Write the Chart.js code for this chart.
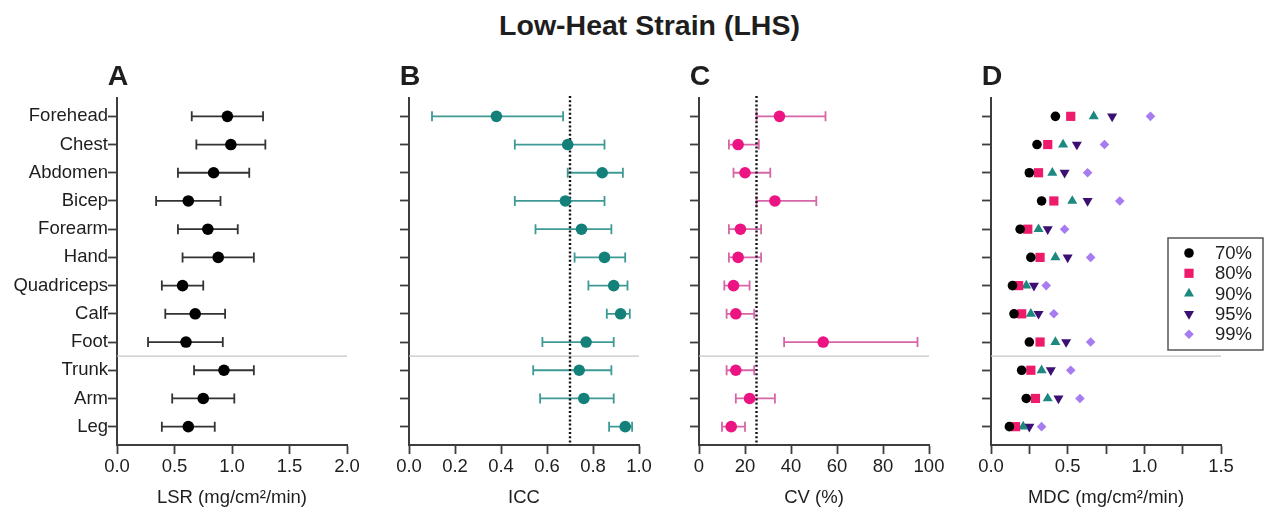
<!DOCTYPE html>
<html>
<head>
<meta charset="utf-8">
<script src="https://cdn.jsdelivr.net/npm/chart.js@4.4.1/dist/chart.umd.min.js"></script>
<style>
  body { margin: 0; background: #fff; width: 1271px; height: 515px; overflow: hidden; position: relative;
         font-family: "Liberation Sans", Arial, sans-serif; }
  #title { position: absolute; top: 11px; left: 649.5px; transform: translateX(-50%);
           font-weight: bold; font-size: 28.5px; line-height: 28.5px; white-space: nowrap; color: #1e1e1e; }
  canvas { position: absolute; top: 50px; }
</style>
</head>
<body>
<div id="title">Low-Heat Strain (LHS)</div>
<canvas id="chartA" width="362" height="465" style="left:0px"></canvas>
<canvas id="chartB" width="300" height="465" style="left:362px"></canvas>
<canvas id="chartC" width="290" height="465" style="left:662px"></canvas>
<canvas id="chartD" width="319" height="465" style="left:952px"></canvas>
<script>
// sites, top to bottom (last three are regional groups)
const sites = ["Forehead", "Chest", "Abdomen", "Bicep", "Forearm", "Hand", "Quadriceps", "Calf", "Foot", "Trunk", "Arm", "Leg"];

// A - local sweat rate
const lsrMean = [0.96, 0.99, 0.84, 0.62, 0.79, 0.88, 0.57, 0.68, 0.60, 0.93, 0.75, 0.62];
const lsrLow  = [0.65, 0.69, 0.53, 0.34, 0.53, 0.57, 0.39, 0.42, 0.27, 0.67, 0.48, 0.39];
const lsrHigh = [1.27, 1.29, 1.15, 0.90, 1.05, 1.19, 0.75, 0.94, 0.92, 1.19, 1.02, 0.85];

// B - ICC
const iccMean = [0.38, 0.69, 0.84, 0.68, 0.75, 0.85, 0.89, 0.92, 0.77, 0.74, 0.76, 0.94];
const iccLow  = [0.10, 0.46, 0.69, 0.46, 0.55, 0.72, 0.78, 0.86, 0.58, 0.54, 0.57, 0.87];
const iccHigh = [0.67, 0.85, 0.93, 0.85, 0.88, 0.94, 0.95, 0.96, 0.89, 0.88, 0.89, 0.97];
const iccRef = 0.7;

// C - CV (%)
const cvMean = [35, 17, 20, 33, 18, 17, 15, 16, 54, 16, 22, 14];
const cvLow  = [25, 13, 15, 25, 13, 13, 11, 12, 37, 12, 16, 10];
const cvHigh = [55, 26, 31, 51, 27, 27, 22, 24, 95, 24, 33, 20];
const cvRef = 25;

// D - MDC at each confidence level
const mdcLevels = ["70%", "80%", "90%", "95%", "99%"];
const mdc70 = [0.42, 0.30, 0.25, 0.33, 0.19, 0.26, 0.14, 0.15, 0.25, 0.20, 0.23, 0.12];
const mdc80 = [0.52, 0.37, 0.31, 0.41, 0.24, 0.32, 0.18, 0.20, 0.32, 0.26, 0.29, 0.16];
const mdc90 = [0.67, 0.47, 0.40, 0.53, 0.31, 0.42, 0.23, 0.26, 0.42, 0.33, 0.37, 0.21];
const mdc95 = [0.79, 0.56, 0.48, 0.63, 0.37, 0.50, 0.28, 0.31, 0.49, 0.39, 0.44, 0.25];
const mdc99 = [1.04, 0.74, 0.63, 0.84, 0.48, 0.65, 0.36, 0.41, 0.65, 0.52, 0.58, 0.33];

// x tick positions and labels
const lsrTicks = [0, 0.5, 1, 1.5, 2];
const lsrTickLabels = ["0.0", "0.5", "1.0", "1.5", "2.0"];
const iccTicks = [0, 0.2, 0.4, 0.6, 0.8, 1];
const iccTickLabels = ["0.0", "0.2", "0.4", "0.6", "0.8", "1.0"];
const cvTicks = [0, 20, 40, 60, 80, 100];
const cvTickLabels = ["0", "20", "40", "60", "80", "100"];
const mdcTicks = [0, 0.25, 0.5, 0.75, 1, 1.25, 1.5];
const mdcTickLabels = ["0.0", "", "0.5", "", "1.0", "", "1.5"];

const FONT = "'Liberation Sans', Arial, sans-serif";
const TEXT = "#1e1e1e";
const AXIS = "#3d3d3d";
Chart.defaults.font.family = FONT;
Chart.defaults.color = TEXT;

// draws separator, error bars, reference line, panel letter and (for D) the legend box
function decor(cfg) {
    return {
        id: "decor",
        beforeDatasetsDraw(chart) {
            const { ctx, chartArea: a, scales: { x, y } } = chart;
            ctx.save();
            // line between single sites and regional groups
            const sy = y.getPixelForValue(8.5);
            ctx.strokeStyle = "#c6c6c6";
            ctx.lineWidth = 1.3;
            ctx.beginPath();
            ctx.moveTo(a.left, sy);
            ctx.lineTo(a.right, sy);
            ctx.stroke();

            if (cfg.low) {
                ctx.strokeStyle = cfg.barColor;
                ctx.lineWidth = 1.8;
                cfg.low.forEach((lo, i) => {
                    const x1 = x.getPixelForValue(lo);
                    const x2 = x.getPixelForValue(cfg.high[i]);
                    const py = y.getPixelForValue(i);
                    ctx.beginPath();
                    ctx.moveTo(x1, py); ctx.lineTo(x2, py);
                    ctx.moveTo(x1, py - 5); ctx.lineTo(x1, py + 5);
                    ctx.moveTo(x2, py - 5); ctx.lineTo(x2, py + 5);
                    ctx.stroke();
                });
            }

            if (cfg.ref !== undefined) {
                const rx = x.getPixelForValue(cfg.ref);
                ctx.strokeStyle = "#111";
                ctx.lineWidth = 2.4;
                ctx.setLineDash([2, 2.2]);
                ctx.beginPath();
                ctx.moveTo(rx, a.top - 2);
                ctx.lineTo(rx, a.bottom);
                ctx.stroke();
            }
            ctx.restore();
        },
        afterDraw(chart) {
            const { ctx, chartArea: a } = chart;
            ctx.save();
            ctx.fillStyle = TEXT;
            ctx.font = "bold 28.5px " + FONT;
            ctx.textAlign = "center";
            ctx.textBaseline = "alphabetic";
            ctx.fillText(cfg.letter, a.left + 1, 35);

            if (cfg.legend) {
                const L = cfg.legend;
                ctx.strokeStyle = "#555";
                ctx.lineWidth = 1.5;
                ctx.strokeRect(L.x, L.y, L.w, L.h);
                ctx.font = "18.5px " + FONT;
                ctx.textAlign = "left";
                ctx.textBaseline = "middle";
                chart.data.datasets.forEach((ds, i) => {
                    const py = L.y + L.first + i * L.step;
                    ctx.fillStyle = ds.backgroundColor;
                    Chart.helpers.drawPoint(ctx, {
                        pointStyle: ds.pointStyle, radius: ds.pointRadius,
                        rotation: ds.pointRotation || 0, borderWidth: 0
                    }, L.x + 21, py);
                    ctx.fillStyle = TEXT;
                    ctx.fillText(ds.label, L.x + 47, py + 1);
                });
            }
            ctx.restore();
        }
    };
}

function scales(o) {
    const grid = { drawOnChartArea: false, drawTicks: true, tickLength: 9, tickWidth: 1.8, color: AXIS };
    const border = { display: true, color: AXIS, width: 2 };
    return {
        x: {
            type: "linear", min: o.ticks[0], max: o.ticks[o.ticks.length - 1],
            afterBuildTicks: s => { s.ticks = o.ticks.map(v => ({ value: v })); },
            afterFit: s => { s.height = 70; },
            ticks: {
                autoSkip: false, maxRotation: 0, padding: 2, color: TEXT,
                font: { size: 18.5 },
                callback: (v, i) => o.tickLabels[i]
            },
            title: { display: true, text: o.title, color: TEXT, font: { size: 18.5 }, padding: { top: 0, bottom: 6 } },
            grid, border
        },
        y: {
            type: "linear", min: -0.65, max: 11.65, reverse: true,
            afterBuildTicks: s => { s.ticks = sites.map((_, i) => ({ value: i })); },
            afterFit: s => { s.width = o.yWidth; },
            ticks: {
                display: !!o.yLabels, autoSkip: false, padding: 0, color: TEXT,
                font: { size: 18.5 },
                callback: (v, i) => sites[i]
            },
            grid, border
        }
    };
}

function baseOptions(o) {
    return {
        responsive: false,
        animation: false,
        layout: { padding: { top: 48, right: o.padRight, left: 0, bottom: 0 } },
        plugins: { legend: { display: false }, tooltip: { enabled: false } },
        scales: scales(o)
    };
}

const toPts = arr => arr.map((v, i) => ({ x: v, y: i }));

new Chart(document.getElementById("chartA"), {
    type: "scatter",
    data: { datasets: [{ data: toPts(lsrMean), pointRadius: 5.8, backgroundColor: "#000", borderWidth: 0 }] },
    options: baseOptions({ ticks: lsrTicks, tickLabels: lsrTickLabels, title: "LSR (mg/cm²/min)", yWidth: 117, yLabels: true, padRight: 15 }),
    plugins: [decor({ letter: "A", low: lsrLow, high: lsrHigh, barColor: "#333" })]
});

new Chart(document.getElementById("chartB"), {
    type: "scatter",
    data: { datasets: [{ data: toPts(iccMean), pointRadius: 5.8, backgroundColor: "#14807a", borderWidth: 0 }] },
    options: baseOptions({ ticks: iccTicks, tickLabels: iccTickLabels, title: "ICC", yWidth: 47, padRight: 23 }),
    plugins: [decor({ letter: "B", low: iccLow, high: iccHigh, barColor: "#3f9a95", ref: iccRef })]
});

new Chart(document.getElementById("chartC"), {
    type: "scatter",
    data: { datasets: [{ data: toPts(cvMean), pointRadius: 5.8, backgroundColor: "#eb1482", borderWidth: 0 }] },
    options: baseOptions({ ticks: cvTicks, tickLabels: cvTickLabels, title: "CV (%)", yWidth: 37, padRight: 23 }),
    plugins: [decor({ letter: "C", low: cvLow, high: cvHigh, barColor: "#d766a8", ref: cvRef })]
});

const mdcSeries = [mdc70, mdc80, mdc90, mdc95, mdc99];
const mdcStyles = [
    { pointStyle: "circle", pointRadius: 4.8, backgroundColor: "#000" },
    { pointStyle: "rect", pointRadius: 6.5, backgroundColor: "#ee1a6a" },
    { pointStyle: "triangle", pointRadius: 5.8, backgroundColor: "#1c8880" },
    { pointStyle: "triangle", pointRadius: 5.8, pointRotation: 180, backgroundColor: "#3c0f73" },
    { pointStyle: "rectRot", pointRadius: 4.8, backgroundColor: "#a67cf0" }
];

new Chart(document.getElementById("chartD"), {
    type: "scatter",
    data: {
        datasets: mdcSeries.map((s, k) => Object.assign({ label: mdcLevels[k], data: toPts(s), borderWidth: 0 }, mdcStyles[k]))
    },
    options: baseOptions({ ticks: mdcTicks, tickLabels: mdcTickLabels, title: "MDC (mg/cm²/min)", yWidth: 39, padRight: 50 }),
    plugins: [decor({ letter: "D", legend: { x: 216, y: 188, w: 95, h: 112, first: 15, step: 20.3 } })]
});
</script>
</body>
</html>
